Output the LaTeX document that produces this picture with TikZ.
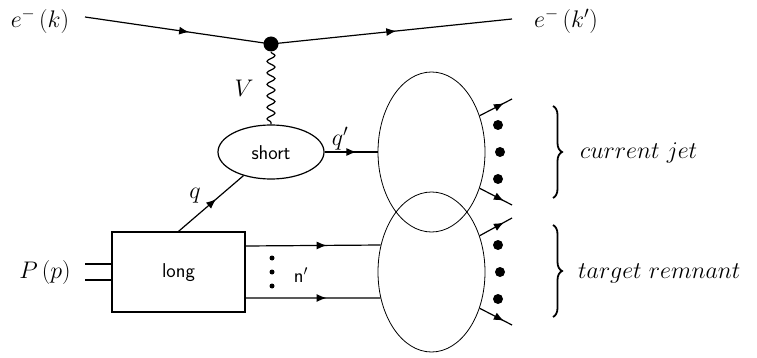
\RequirePackage{fix-cm}
\documentclass[tikz,border=0pt]{standalone}
\usetikzlibrary{decorations.markings,decorations.pathmorphing,decorations.pathreplacing,arrows.meta,shapes.geometric}
\begin{document}
\begin{tikzpicture}[x=1pt,y=-1pt,
  lbl/.style={font=\fontsize{24}{28}\selectfont, inner sep=0pt},
  sflbl/.style={font=\fontsize{20}{24}\selectfont\sffamily, inner sep=0pt},
  ln/.style={line width=1.2pt},
  fl/.style={ln,postaction={decorate},decoration={markings,mark=at position #1 with {\arrow{Latex[length=10pt,width=8pt]}}}},
  fl/.default=0.55,
  blob/.style={draw,ellipse,line width=0.8pt,minimum width=107pt,minimum height=160pt,inner sep=0pt},
  bigdot/.style={circle,fill,inner sep=0pt,minimum size=10pt},
  smalldot/.style={circle,fill,inner sep=0pt,minimum size=5pt},
  wavy/.style={ln,decorate,decoration={snake,amplitude=4pt,segment length=11.5pt}},
  curly/.style={decorate,decoration={brace,amplitude=9pt},line width=1.8pt}
]
\useasboundingbox (0,0) rectangle (757,358);

% electron line
\node[lbl] (ek) at (40,21) {$e^-\,(k)$};
\node[lbl] (ekp) at (566,21) {$e^-\,(k')$};
\coordinate (ein) at (85,17);
\coordinate (eout) at (512,19);
\node[circle,fill,inner sep=0pt,minimum size=15pt] (vtx) at (271,44) {};
\draw[fl=0.56] (ein) -- (vtx.center);
\draw[fl=0.52] (vtx.center) -- (eout);

% short ellipse and boson
\node[draw,ellipse,ln,minimum width=106pt,minimum height=54pt,inner sep=0pt] (short) at (271,152) {};
\node[sflbl] (shorttxt) at (271,153) {short};
\coordinate (wtop) at ([yshift=-8pt]vtx.center);
\draw[wavy] (wtop) -- (short.north);
\node[lbl] (V) at (244,88) {$V$};

% jet blobs
\node[blob] (cj) at (431.5,152) {};
\node[blob] (tr) at (431.5,272) {};

% q' line
\draw[fl=0.6] (short.east) -- (cj.west);
\node[lbl] (qp) at (340,139) {$q'$};

% long box
\node[draw,ln,minimum width=133pt,minimum height=80pt,inner sep=0pt] (long) at (178.5,272) {};
\node[sflbl] (longtxt) at (178.5,273) {long};

% q line
\draw[fl=0.58] (long.north) -- (short);
\node[lbl] (q) at (195,196) {$q$};

% proton lines
\node[lbl] (Pp) at (45,272) {$P\,(p)$};
\coordinate (p1) at (85,264);
\coordinate (p2) at (85,280);
\draw[ln] (p1) -- (p1 -| long.west);
\draw[ln] (p2) -- (p2 -| long.west);

% outgoing from long
\draw[fl=0.6] ([yshift=26pt]long.east) -- (tr.152.8);
\draw[fl=0.6] ([yshift=-26pt]long.east) -- (tr.207.2);
\node[smalldot] (d1) at (272,258) {};
\node[smalldot] (d2) at (272,272) {};
\node[smalldot] (d3) at (272,286) {};
\node[sflbl] (np) at (301,275) {n$'$};

% outgoing arrows from blobs
\coordinate (cja) at (512,99);
\coordinate (cjb) at (512,205);
\coordinate (tra) at (512,218);
\coordinate (trb) at (512,325);
\draw[fl=0.75] (cj.37) -- (cja);
\draw[fl=0.75] (cj.-37) -- (cjb);
\draw[fl=0.75] (tr.37) -- (tra);
\draw[fl=0.75] (tr.-37) -- (trb);

\node[bigdot] (c1) at (498,125) {};
\node[bigdot] (c2) at (500,152) {};
\node[bigdot] (c3) at (498,179) {};
\node[bigdot] (t1) at (498,245) {};
\node[bigdot] (t2) at (500,272) {};
\node[bigdot] (t3) at (498,299) {};

% braces and labels
\coordinate (b1t) at (553,106);
\coordinate (b1b) at (553,198);
\coordinate (b2t) at (553,225);
\coordinate (b2b) at (553,317);
\draw[curly] (b1t) -- (b1b);
\draw[curly] (b2t) -- (b2b);
\node[lbl,anchor=west] (cjt) at (580,153) {$current\ jet$};
\node[lbl,anchor=west] (trt) at (578,273) {$target\ remnant$};
\end{tikzpicture}
\end{document}
